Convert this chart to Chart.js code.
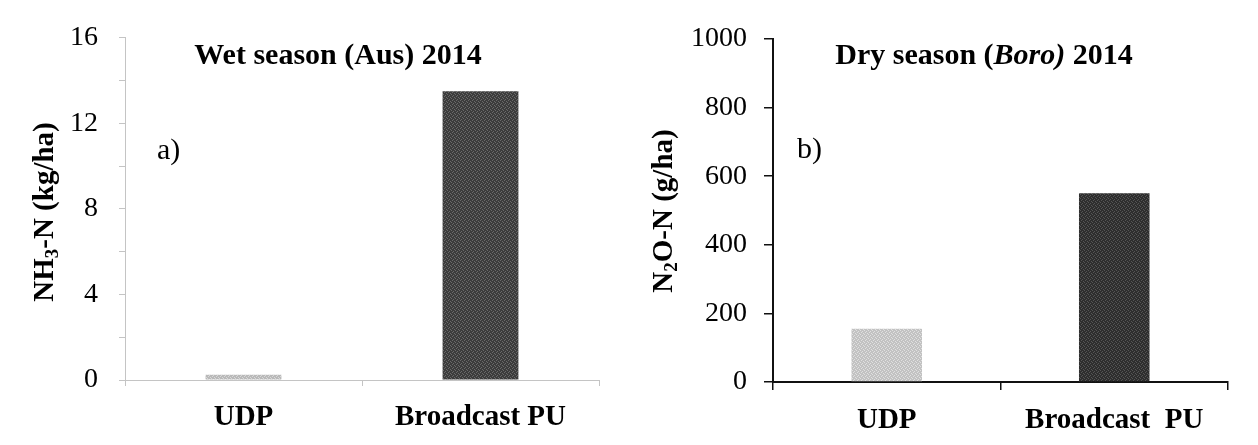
<!DOCTYPE html>
<html>
<head>
<meta charset="utf-8">
<title>NH3 and N2O losses, 2014</title>
<script src="https://cdn.jsdelivr.net/npm/chart.js@4.4.1/dist/chart.umd.min.js"></script>
<style>
    html, body { margin: 0; padding: 0; background: #fff; }
    #wrap { position: relative; width: 1258px; height: 445px; overflow: hidden; }
    .panel { position: absolute; top: 0; width: 629px; height: 445px; }
</style>
</head>
<body>
<div id="wrap">
    <div class="panel" style="left:0"><canvas id="chartWet" width="629" height="445"></canvas></div>
    <div class="panel" style="left:629px"><canvas id="chartDry" width="629" height="445"></canvas></div>
</div>
<script>
// Data
const wetCategories = ['UDP', 'Broadcast PU'];
const dryCategories = ['UDP', 'Broadcast  PU'];
const nh3Values = [0.25, 13.5];      // kg/ha
const n2oValues = [155, 550];        // g/ha
const nh3TickLabels = [0, 4, 8, 12, 16];
const n2oTickLabels = [0, 200, 400, 600, 800, 1000];

const SERIF = "'Liberation Serif', 'Times New Roman', 'DejaVu Serif', serif";

// small speckled fill, the bars in the scan are grainy
function speckle(base, dot) {
    const c = document.createElement('canvas');
    c.width = 4; c.height = 4;
    const g = c.getContext('2d');
    g.fillStyle = base;
    g.fillRect(0, 0, 4, 4);
    g.fillStyle = dot;
    g.fillRect(0, 0, 1, 1);
    g.fillRect(2, 1, 1, 1);
    g.fillRect(1, 3, 1, 1);
    g.fillRect(3, 2, 1, 1);
    return g.createPattern(c, 'repeat');
}

// draws a run of text pieces (some italic / subscript) centred on x,y
function drawRuns(ctx, runs, x, y, size, rotate) {
    const fontOf = r => (r.italic ? 'italic ' : '') + 'bold ' + (r.sub ? Math.round(size * 0.65) : size) + 'px ' + SERIF;
    let total = 0;
    runs.forEach(r => { ctx.font = fontOf(r); total += ctx.measureText(r.text).width; });
    ctx.save();
    ctx.translate(x, y);
    if (rotate) ctx.rotate(-Math.PI / 2);
    ctx.textBaseline = 'alphabetic';
    ctx.textAlign = 'left';
    let cx = -total / 2;
    const base = size * 0.33;
    runs.forEach(r => {
        ctx.font = fontOf(r);
        ctx.fillText(r.text, cx, base + (r.sub ? size * 0.2 : 0));
        cx += ctx.measureText(r.text).width;
    });
    ctx.restore();
}

const panelText = {
    id: 'panelText',
    afterDraw(chart, args, opts) {
        const ctx = chart.ctx;
        ctx.save();
        ctx.fillStyle = '#000';
        drawRuns(ctx, opts.title, opts.titleX, opts.titleY, 30, false);
        drawRuns(ctx, opts.yTitle, opts.yTitleX, opts.yTitleY, 29, true);
        ctx.font = '30px ' + SERIF;
        ctx.textAlign = 'left';
        ctx.textBaseline = 'alphabetic';
        ctx.fillText(opts.letter, opts.letterX, opts.letterY);
        ctx.restore();
    }
};

function makeChart(id, cfg) {
    const ctx = document.getElementById(id);
    return new Chart(ctx, {
        type: 'bar',
        data: {
            labels: cfg.labels,
            datasets: [{
                data: cfg.values,
                backgroundColor: cfg.colors,
                borderWidth: 0,
                barPercentage: cfg.barPct,
                categoryPercentage: 1
            }]
        },
        options: {
            responsive: false,
            animation: false,
            layout: { padding: { left: 0, right: cfg.padRight, top: cfg.padTop, bottom: 0 } },
            plugins: {
                legend: { display: false },
                tooltip: { enabled: false },
                panelText: cfg.text
            },
            scales: {
                x: {
                    grid: {
                        display: true,
                        offset: true,
                        drawOnChartArea: false,
                        tickLength: cfg.xTick,
                        color: cfg.axisColor,
                        lineWidth: cfg.tickWidth
                    },
                    border: { color: cfg.axisColor, width: cfg.axisWidth, dash: cfg.dash },
                    ticks: {
                        color: '#000',
                        padding: cfg.xPad,
                        font: { family: SERIF, size: 29, weight: 'bold' }
                    },
                    afterFit: s => { s.height = cfg.xHeight; }
                },
                y: {
                    min: 0,
                    max: cfg.max,
                    ticks: {
                        stepSize: cfg.step,
                        color: '#000',
                        padding: cfg.yPad,
                        font: { family: SERIF, size: 28 },
                        callback: v => cfg.tickLabels.includes(v) ? String(v) : ''
                    },
                    grid: {
                        drawOnChartArea: false,
                        tickLength: cfg.yTick,
                        color: cfg.axisColor,
                        lineWidth: cfg.tickWidth
                    },
                    border: { color: cfg.axisColor, width: cfg.axisWidth, dash: cfg.dash },
                    afterFit: s => { s.width = cfg.yWidth; }
                }
            }
        },
        plugins: [panelText]
    });
}

// a) wet season, faint dotted axes in the scan
makeChart('chartWet', {
    labels: wetCategories,
    values: nh3Values,
    colors: [speckle('#b9b9b9', '#d8d8d8'), speckle('#3c3c3c', '#6a6a6a')],
    barPct: 0.32,
    max: 16, step: 2, tickLabels: nh3TickLabels,
    padRight: 30, padTop: 37,
    xHeight: 65, yWidth: 125,
    xTick: 6, yTick: 6, xPad: 14, yPad: 21,
    axisColor: '#c4c4c4', axisWidth: 1, tickWidth: 1, dash: [2, 2],
    text: {
        title: [{ text: 'Wet season (Aus) 2014' }],
        titleX: 338, titleY: 54,
        yTitle: [{ text: 'NH' }, { text: '3', sub: true }, { text: '-N (kg/ha)' }],
        yTitleX: 43, yTitleY: 212,
        letter: 'a)', letterX: 157, letterY: 159
    }
});

// b) dry season, solid black axes
makeChart('chartDry', {
    labels: dryCategories,
    values: n2oValues,
    colors: [speckle('#c2c2c2', '#e0e0e0'), speckle('#2e2e2e', '#555555')],
    barPct: 0.31,
    max: 1000, step: 100, tickLabels: n2oTickLabels,
    padRight: 30, padTop: 39,
    xHeight: 63, yWidth: 144,
    xTick: 8, yTick: 9, xPad: 13, yPad: 17,
    axisColor: '#111', axisWidth: 2, tickWidth: 1.5, dash: [],
    text: {
        title: [{ text: 'Dry season (' }, { text: 'Boro)', italic: true }, { text: ' 2014' }],
        titleX: 355, titleY: 54,
        yTitle: [{ text: 'N' }, { text: '2', sub: true }, { text: 'O-N (g/ha)' }],
        yTitleX: 33, yTitleY: 211,
        letter: 'b)', letterX: 168, letterY: 158
    }
});
</script>
</body>
</html>
